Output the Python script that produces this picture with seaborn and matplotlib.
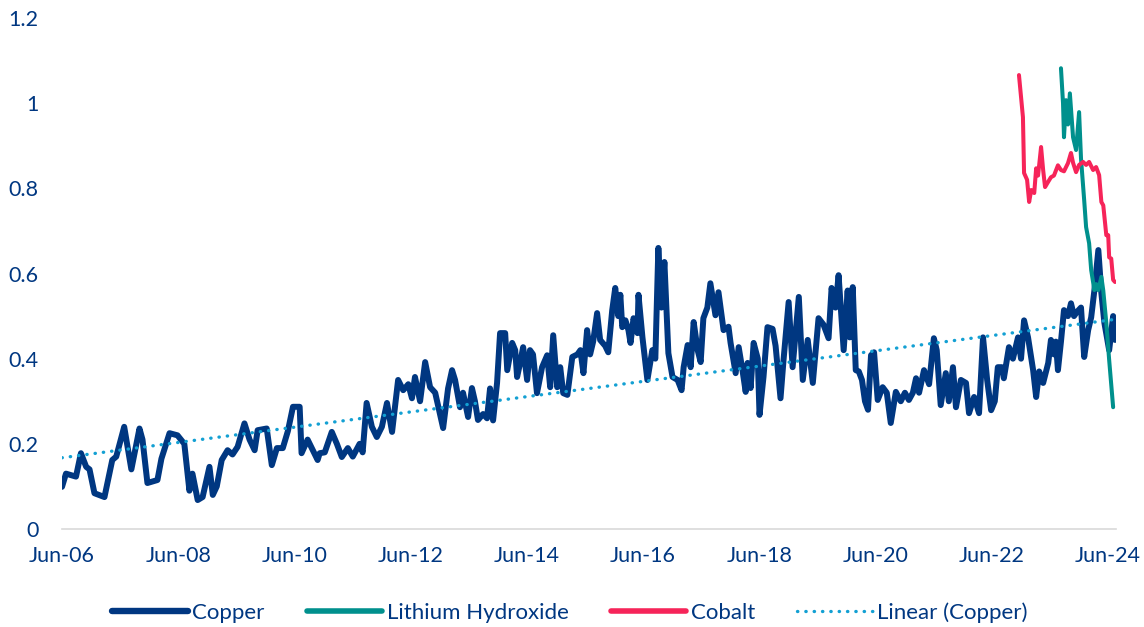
import numpy as np
import pandas as pd

import matplotlib
matplotlib.use('Agg')
import matplotlib.pyplot as plt
import matplotlib.dates as mdates
from matplotlib.ticker import FuncFormatter
import seaborn as sns

sns.set_style('white')
plt.rcParams['font.family'] = ['Lato', 'DejaVu Sans']

# ── Data ─────────────────────────────────────────────────────────────────────
copper_dates = [
    '2006-06-01', '2006-06-26', '2006-08-28', '2006-09-28', '2006-10-31', '2006-11-21',
    '2006-12-22', '2007-02-23', '2007-04-13', '2007-05-08', '2007-06-27', '2007-08-11',
    '2007-10-01', '2007-10-20', '2007-11-20', '2008-01-22', '2008-02-16', '2008-04-07',
    '2008-05-27', '2008-07-09', '2008-08-10', '2008-08-29', '2008-10-01', '2008-11-01',
    '2008-12-14', '2009-01-04', '2009-01-29', '2009-03-01', '2009-04-07', '2009-05-08',
    '2009-06-09', '2009-07-22', '2009-08-23', '2009-09-24', '2009-10-13', '2009-12-09',
    '2010-01-10', '2010-02-11', '2010-03-20', '2010-04-21', '2010-05-23', '2010-07-04',
    '2010-07-16', '2010-08-23', '2010-10-25', '2010-11-07', '2010-12-09', '2011-01-22',
    '2011-02-23', '2011-03-26', '2011-05-03', '2011-06-03', '2011-07-16', '2011-08-04',
    '2011-08-29', '2011-10-01', '2011-11-01', '2011-12-03', '2012-01-04', '2012-02-05',
    '2012-03-14', '2012-04-15', '2012-05-17', '2012-06-09', '2012-06-28', '2012-07-30',
    '2012-08-31', '2012-10-01', '2012-11-02', '2012-12-22', '2013-01-22', '2013-02-16',
    '2013-03-07', '2013-04-07', '2013-04-26', '2013-05-28', '2013-06-21', '2013-07-10',
    '2013-07-29', '2013-08-30', '2013-09-24', '2013-10-13', '2013-11-01', '2013-11-26',
    '2013-12-15', '2014-01-16', '2014-01-29', '2014-03-01', '2014-03-20', '2014-04-01',
    '2014-04-20', '2014-05-09', '2014-06-03', '2014-06-21', '2014-07-10', '2014-08-04',
    '2014-09-05', '2014-10-07', '2014-10-26', '2014-11-14', '2014-12-09', '2014-12-28',
    '2015-01-16', '2015-02-11', '2015-03-14', '2015-04-15', '2015-05-04', '2015-05-23',
    '2015-06-15', '2015-07-04', '2015-07-23', '2015-08-17', '2015-09-05', '2015-10-07',
    '2015-10-26', '2015-11-20', '2015-12-09', '2015-12-28', '2016-01-10', '2016-01-22',
    '2016-02-11', '2016-03-01', '2016-03-14', '2016-04-02', '2016-04-27', '2016-05-03',
    '2016-05-28', '2016-06-28', '2016-07-29', '2016-08-17', '2016-09-05', '2016-09-24',
    '2016-10-13', '2016-11-07', '2016-12-03', '2017-01-04', '2017-01-29', '2017-02-11',
    '2017-03-08', '2017-03-27', '2017-04-15', '2017-05-10', '2017-05-29', '2017-06-15',
    '2017-07-10', '2017-07-29', '2017-08-30', '2017-09-18', '2017-10-20', '2017-11-20',
    '2017-12-03', '2018-01-04', '2018-01-23', '2018-02-17', '2018-03-08', '2018-03-20',
    '2018-04-08', '2018-04-27', '2018-05-23', '2018-06-03', '2018-06-28', '2018-07-23',
    '2018-08-24', '2018-09-12', '2018-10-13', '2018-11-01', '2018-12-03', '2018-12-28',
    '2019-02-05', '2019-03-02', '2019-04-02', '2019-05-04', '2019-06-09', '2019-07-10',
    '2019-08-11', '2019-08-30', '2019-09-24', '2019-10-13', '2019-11-14', '2019-12-09',
    '2019-12-22', '2020-01-10', '2020-01-29', '2020-02-17', '2020-03-08', '2020-03-27',
    '2020-04-15', '2020-05-04', '2020-05-23', '2020-06-15', '2020-07-16', '2020-08-11',
    '2020-09-05', '2020-10-07', '2020-11-07', '2020-12-03', '2020-12-28', '2021-01-22',
    '2021-02-11', '2021-03-02', '2021-04-02', '2021-05-04', '2021-06-03', '2021-06-21',
    '2021-07-16', '2021-08-17', '2021-09-05', '2021-10-01', '2021-10-20', '2021-11-20',
    '2021-12-22', '2022-01-10', '2022-02-11', '2022-03-14', '2022-04-08', '2022-05-04',
    '2022-05-29', '2022-06-21', '2022-07-10', '2022-08-04', '2022-08-17', '2022-09-18',
    '2022-10-13', '2022-11-14', '2022-12-03', '2022-12-22', '2023-01-16', '2023-02-17',
    '2023-03-08', '2023-03-27', '2023-04-21', '2023-05-23', '2023-06-09', '2023-06-28',
    '2023-07-10', '2023-07-23', '2023-08-11', '2023-08-30', '2023-09-24', '2023-10-13',
    '2023-11-01', '2023-11-20', '2023-12-15', '2024-01-04', '2024-01-29', '2024-02-17',
    '2024-03-08', '2024-04-02', '2024-04-21', '2024-05-10', '2024-06-09', '2024-07-04',
    '2024-07-16',
]
copper_values = [
    0.099, 0.130, 0.123, 0.178, 0.146, 0.140,
    0.084, 0.075, 0.162, 0.170, 0.240, 0.140,
    0.236, 0.210, 0.108, 0.115, 0.165, 0.225,
    0.220, 0.200, 0.090, 0.130, 0.068, 0.075,
    0.146, 0.080, 0.100, 0.162, 0.185, 0.175,
    0.193, 0.248, 0.210, 0.185, 0.232, 0.236,
    0.150, 0.190, 0.190, 0.230, 0.287, 0.287,
    0.178, 0.210, 0.162, 0.178, 0.180, 0.228,
    0.200, 0.169, 0.190, 0.170, 0.200, 0.180,
    0.296, 0.240, 0.216, 0.240, 0.296, 0.228,
    0.350, 0.326, 0.340, 0.307, 0.357, 0.300,
    0.392, 0.333, 0.320, 0.237, 0.330, 0.373,
    0.350, 0.286, 0.320, 0.263, 0.331, 0.300,
    0.256, 0.270, 0.260, 0.330, 0.255, 0.343,
    0.460, 0.460, 0.373, 0.437, 0.420, 0.357,
    0.390, 0.427, 0.350, 0.420, 0.410, 0.319,
    0.380, 0.408, 0.333, 0.455, 0.333, 0.380,
    0.319, 0.315, 0.404, 0.410, 0.420, 0.366,
    0.467, 0.410, 0.440, 0.507, 0.444, 0.430,
    0.415, 0.514, 0.566, 0.500, 0.550, 0.474,
    0.490, 0.467, 0.437, 0.495, 0.460, 0.550,
    0.450, 0.350, 0.420, 0.400, 0.660, 0.520,
    0.627, 0.413, 0.357, 0.350, 0.326, 0.380,
    0.432, 0.380, 0.486, 0.420, 0.392, 0.495,
    0.520, 0.577, 0.502, 0.556, 0.467, 0.475,
    0.437, 0.366, 0.427, 0.370, 0.322, 0.390,
    0.331, 0.437, 0.400, 0.268, 0.357, 0.474,
    0.470, 0.430, 0.307, 0.397, 0.533, 0.380,
    0.545, 0.350, 0.444, 0.343, 0.495, 0.480,
    0.448, 0.566, 0.520, 0.596, 0.420, 0.560,
    0.450, 0.568, 0.373, 0.370, 0.350, 0.300,
    0.280, 0.408, 0.415, 0.303, 0.333, 0.320,
    0.249, 0.322, 0.300, 0.320, 0.303, 0.320,
    0.354, 0.320, 0.373, 0.340, 0.448, 0.420,
    0.291, 0.366, 0.300, 0.380, 0.286, 0.350,
    0.343, 0.272, 0.310, 0.272, 0.450, 0.350,
    0.279, 0.300, 0.380, 0.380, 0.354, 0.427,
    0.400, 0.450, 0.400, 0.490, 0.450, 0.373,
    0.310, 0.370, 0.343, 0.390, 0.444, 0.410,
    0.440, 0.373, 0.440, 0.514, 0.500, 0.530,
    0.500, 0.510, 0.520, 0.404, 0.467, 0.497,
    0.560, 0.655, 0.554, 0.484, 0.420, 0.500,
    0.444,
]

lithium_dates = [
    '2023-08-11', '2023-08-24', '2023-08-30', '2023-09-12', '2023-09-24', '2023-10-06',
    '2023-10-26', '2023-11-14', '2023-12-03', '2023-12-15', '2024-01-04', '2024-01-16',
    '2024-02-04', '2024-02-17', '2024-03-08', '2024-03-20', '2024-04-02', '2024-04-21',
    '2024-05-03', '2024-05-22', '2024-06-09', '2024-07-04',
]
lithium_values = [
    1.082, 1.000, 0.920, 1.007, 0.950, 1.023,
    0.920, 0.890, 0.979, 0.870, 0.772, 0.709,
    0.671, 0.608, 0.561, 0.575, 0.561, 0.592,
    0.560, 0.484, 0.397, 0.286,
]

cobalt_dates = [
    '2022-11-20', '2022-12-15', '2022-12-22', '2023-01-10', '2023-01-23', '2023-02-05',
    '2023-02-24', '2023-03-08', '2023-03-20', '2023-04-08', '2023-04-21', '2023-05-03',
    '2023-05-22', '2023-06-09', '2023-06-28', '2023-07-23', '2023-08-11', '2023-08-30',
    '2023-09-24', '2023-10-13', '2023-10-26', '2023-11-14', '2023-12-03', '2023-12-28',
    '2024-01-16', '2024-02-04', '2024-02-29', '2024-03-19', '2024-04-07', '2024-04-21',
    '2024-05-03', '2024-05-22', '2024-06-03', '2024-06-09', '2024-06-22', '2024-07-04',
    '2024-07-16',
]
cobalt_values = [
    1.066, 0.967, 0.836, 0.820, 0.768, 0.796,
    0.789, 0.847, 0.830, 0.897, 0.843, 0.803,
    0.815, 0.826, 0.830, 0.854, 0.843, 0.840,
    0.859, 0.883, 0.860, 0.838, 0.855, 0.862,
    0.855, 0.862, 0.843, 0.850, 0.831, 0.768,
    0.760, 0.690, 0.690, 0.638, 0.635, 0.585,
    0.580,
]

# ── Colours ──────────────────────────────────────────────────────────────────
NAVY  = '#003781'
TEAL  = '#00908D'
PINK  = '#F62459'
TREND = '#13A0D3'

copper  = pd.DataFrame({'date': pd.to_datetime(copper_dates),  'value': copper_values})
lithium = pd.DataFrame({'date': pd.to_datetime(lithium_dates), 'value': lithium_values})
cobalt  = pd.DataFrame({'date': pd.to_datetime(cobalt_dates),  'value': cobalt_values})

# linear trend of copper; points weighted by the time span they cover,
# since the readings are not evenly spaced like the weekly source series
xnum = mdates.date2num(copper['date'])
span = np.gradient(xnum)
slope, intercept = np.polyfit(xnum, copper['value'], 1, w=np.sqrt(span))
trend = pd.DataFrame({'date': copper['date'], 'value': slope * xnum + intercept})

fig = plt.figure(figsize=(11.44, 6.27), dpi=100)
ax = fig.add_axes([62 / 1144, 1 - 529 / 627, (1116 - 62) / 1144, (529 - 18) / 627])

sns.lineplot(data=copper, x='date', y='value', color=NAVY, lw=4.3, sort=False,
             label='Copper', ax=ax, solid_joinstyle='round', solid_capstyle='round')
sns.lineplot(data=lithium, x='date', y='value', color=TEAL, lw=2.9, sort=False,
             label='Lithium Hydroxide', ax=ax, solid_joinstyle='round', solid_capstyle='round')
sns.lineplot(data=cobalt, x='date', y='value', color=PINK, lw=2.9, sort=False,
             label='Cobalt', ax=ax, solid_joinstyle='round', solid_capstyle='round')
sns.lineplot(data=trend, x='date', y='value', color=TREND, lw=2.4, sort=False,
             label='Linear (Copper)', ax=ax, linestyle=(0, (0.1, 2.4)),
             dash_capstyle='round')

ax.set_xlim(pd.Timestamp('2006-06-01'), pd.Timestamp('2024-07-22'))
ax.set_ylim(0, 1.2)
ax.set_yticks(np.arange(0, 1.21, 0.2))
ax.yaxis.set_major_formatter(FuncFormatter(lambda v, _: f'{v:g}'))
ax.xaxis.set_major_locator(mdates.YearLocator(2, month=6, day=1))
ax.xaxis.set_major_formatter(mdates.DateFormatter('%b-%y'))
ax.set_xlabel('')
ax.set_ylabel('')

for side in ['top', 'right', 'left']:
    ax.spines[side].set_visible(False)
ax.spines['bottom'].set_color('#d9d9d9')
ax.spines['bottom'].set_linewidth(1.2)
ax.tick_params(axis='x', colors='#d9d9d9', length=7, width=1.2, direction='out',
               labelcolor=NAVY, labelsize=15.5, pad=5)
ax.tick_params(axis='y', length=0, labelcolor=NAVY, labelsize=15.5, pad=17)

leg = ax.legend(loc='center', bbox_to_anchor=(0.482, -0.163), ncol=4, frameon=False,
                fontsize=16, handlelength=3.4, handletextpad=0.2, columnspacing=1.9)
for t in leg.get_texts():
    t.set_color(NAVY)
for line in leg.get_lines():
    if line.get_label() == 'Copper':
        line.set_linewidth(4.6)
    elif line.get_label() != 'Linear (Copper)':
        line.set_linewidth(4.0)

fig.savefig('out.png', dpi=100)
